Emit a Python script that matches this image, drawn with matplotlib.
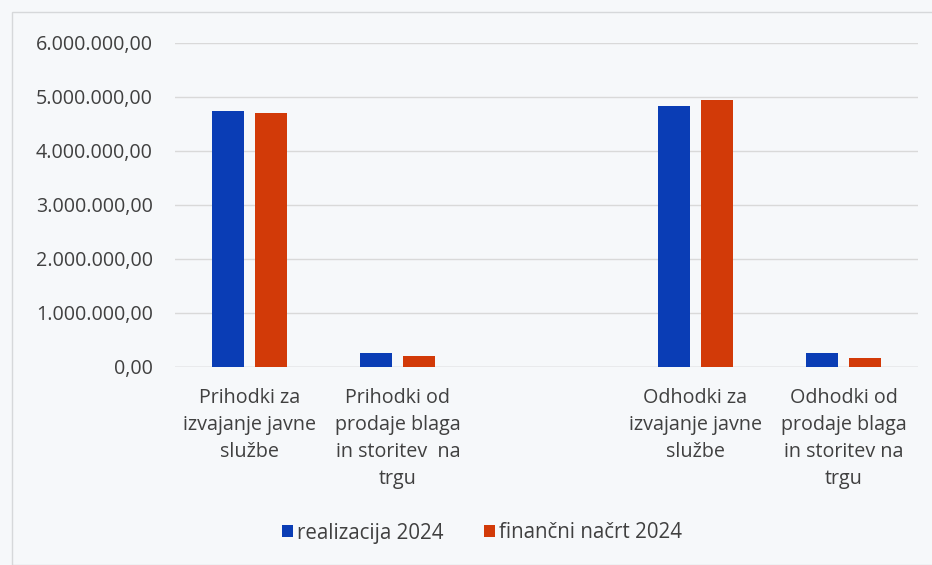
import matplotlib
matplotlib.use("Agg")
import matplotlib.pyplot as plt
import numpy as np
from matplotlib.patches import Rectangle

categories = [
    "Prihodki za\nizvajanje javne\nslužbe",
    "Prihodki od\nprodaje blaga\nin storitev  na\ntrgu",
    "",
    "Odhodki za\nizvajanje javne\nslužbe",
    "Odhodki od\nprodaje blaga\nin storitev na\ntrgu",
]
realizacija = [4730000, 245000, np.nan, 4830000, 245000]
nacrt = [4700000, 205000, np.nan, 4940000, 155000]
series_names = ["realizacija 2024", "finančni načrt 2024"]
yticks = [0, 1000000, 2000000, 3000000, 4000000, 5000000, 6000000]
ytick_labels = ["0,00", "1.000.000,00", "2.000.000,00", "3.000.000,00",
                "4.000.000,00", "5.000.000,00", "6.000.000,00"]

plt.rcParams['font.family'] = ['Open Sans', 'DejaVu Sans']

fig = plt.figure(figsize=(9.32, 5.65), dpi=100)
fig.patch.set_facecolor("#f6f8fa")
fig.patches.append(Rectangle((12/932, 0), 1, 1 - 12/565, transform=fig.transFigure,
                             fill=False, edgecolor="#d6d8da", linewidth=1))
ax = fig.add_axes([175/932, 1 - 366.7/565, (918 - 175)/932, (366.7 - 42.7)/565])
ax.set_facecolor("none")

x = np.arange(len(categories))
w = 0.215
off = 0.145
blue = "#0a3db5"
red = "#d23a08"
ax.bar(x - off, realizacija, w, color=blue, label=series_names[0], zorder=3)
ax.bar(x + off, nacrt, w, color=red, label=series_names[1], zorder=3)

fs = 14.2
ax.set_xlim(-0.5, len(categories) - 0.5)
ax.set_ylim(0, 6000000)
ax.set_yticks(yticks)
ax.set_yticklabels(ytick_labels, fontsize=fs, color="#404040")
ax.set_xticks(x)
ax.set_xticklabels(categories, fontsize=fs, color="#404040", linespacing=1.47, va="top")
ax.tick_params(axis="both", length=0)
ax.tick_params(axis="y", pad=16)
ax.tick_params(axis="x", pad=15)
ax.grid(axis="y", color="#d9d9d9", linewidth=1, zorder=0)
for s in ax.spines.values():
    s.set_visible(False)
ax.axhline(0, color="#d0d0d0", linewidth=1, zorder=2)

leg = fig.legend(loc="center", bbox_to_anchor=(482/932, 1 - 533/565), ncol=2, frameon=False,
                 fontsize=14.8, handlelength=0.5, handleheight=0.55, handletextpad=0.2,
                 columnspacing=2.0, labelcolor="#404040")

fig.savefig("out.png", dpi=100, facecolor=fig.get_facecolor())
